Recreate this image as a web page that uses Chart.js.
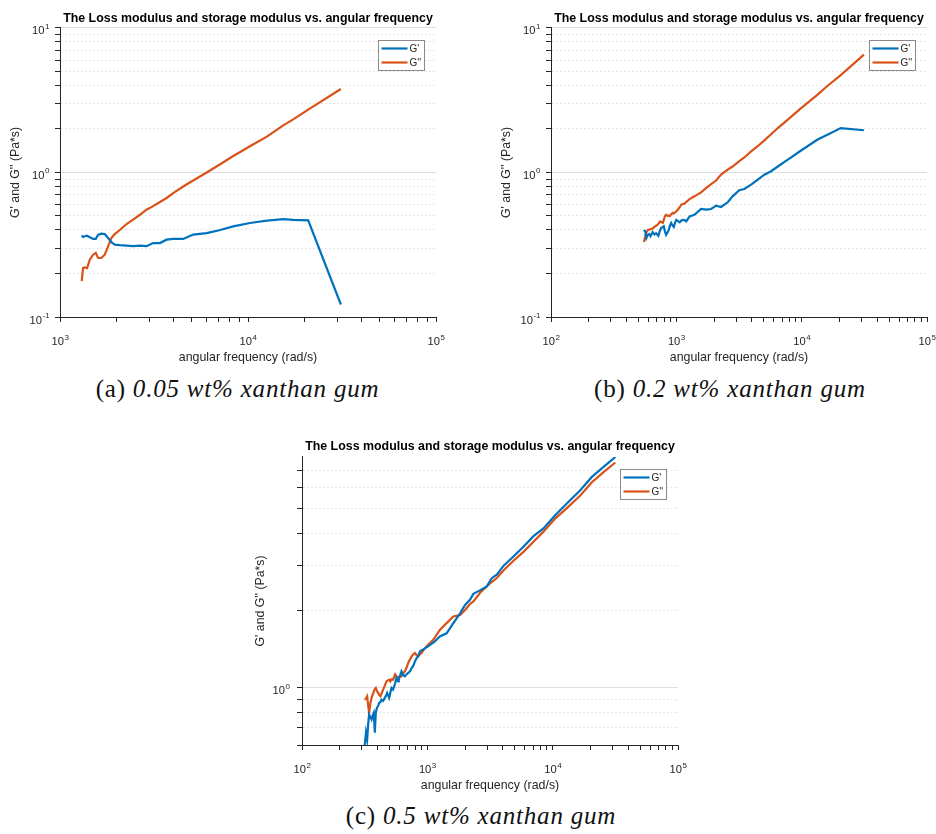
<!DOCTYPE html>
<html lang="en">
<head>
    <meta charset="UTF-8">
    <title>Loss modulus and storage modulus vs. angular frequency</title>
    <style>
        body {
            margin: 0;
            background: #ffffff;
            width: 936px;
            height: 834px;
            position: relative;
            overflow: hidden;
        }
        canvas {
            position: absolute;
        }
        .caption {
            position: absolute;
            text-align: center;
            font-family: "Liberation Serif", "DejaVu Serif", serif;
            font-size: 25px;
            line-height: 28px;
            letter-spacing: 0.8px;
            color: #111111;
            white-space: nowrap;
        }
    </style>
    <script src="https://cdn.jsdelivr.net/npm/chart.js@4.4.1/dist/chart.umd.min.js"></script>
</head>
<body>
    <canvas id="chartA" width="468" height="372" style="left:0px; top:0px; width:468px; height:372px;"></canvas>
    <canvas id="chartB" width="468" height="372" style="left:468px; top:0px; width:468px; height:372px;"></canvas>
    <canvas id="chartC" width="460" height="372" style="left:240px; top:430px; width:460px; height:372px;"></canvas>

    <div class="caption" style="left:0px; width:475px; top:375px;">(a) <i>0.05 wt% xanthan gum</i></div>
    <div class="caption" style="left:500px; width:460px; top:375px;">(b) <i>0.2 wt% xanthan gum</i></div>
    <div class="caption" style="left:251px; width:460px; top:802px;">(c) <i>0.5 wt% xanthan gum</i></div>

    <script>
        // ---- data ----
        // (a) 0.05 wt%
        const freqA = [1305, 1326, 1353, 1393, 1440, 1500, 1549, 1594, 1660, 1730, 1802, 1876, 1955, 2080,
            2260, 2450, 2660, 2885, 3130, 3400, 3690, 4000, 4520, 5110, 6030, 7110, 8350, 10240, 12600,
            15400, 17400, 20900, 31190];
        const gPrimeA = [0.367, 0.358, 0.362, 0.365, 0.356, 0.347, 0.347, 0.370, 0.377, 0.375, 0.352, 0.329,
            0.317, 0.314, 0.312, 0.309, 0.312, 0.309, 0.325, 0.325, 0.343, 0.347, 0.347, 0.372, 0.381,
            0.400, 0.424, 0.447, 0.464, 0.476, 0.470, 0.466, 0.122];
        const gDoubleA = [0.177, 0.218, 0.220, 0.218, 0.249, 0.270, 0.278, 0.256, 0.256, 0.270, 0.308, 0.352,
            0.375, 0.400, 0.440, 0.472, 0.510, 0.553, 0.585, 0.625, 0.666, 0.720, 0.800, 0.880, 1.00,
            1.14, 1.30, 1.52, 1.77, 2.12, 2.33, 2.72, 3.78];

        // (b) 0.2 wt%
        const freqB = [551, 565, 577, 592, 607, 622, 647, 669, 690, 718, 744, 756, 780, 794, 812, 829, 850,
            869, 890, 910, 932, 954, 977, 1000, 1032, 1064, 1097, 1130, 1165, 1200, 1276, 1394, 1575, 1728,
            1895, 2076, 2275, 2570, 2810, 3180, 3490, 3950, 4460, 5040, 5700, 6450, 7750, 9900, 13400,
            16200, 20500, 31400];
        const gPrimeB = [0.40, 0.39, 0.352, 0.37, 0.375, 0.362, 0.387, 0.372, 0.38, 0.365, 0.40, 0.413, 0.42,
            0.424, 0.39, 0.37, 0.385, 0.40, 0.43, 0.447, 0.43, 0.42, 0.45, 0.47, 0.46, 0.452, 0.465, 0.47,
            0.468, 0.459, 0.497, 0.51, 0.559, 0.553, 0.559, 0.59, 0.577, 0.622, 0.684, 0.753, 0.769, 0.824,
            0.892, 0.966, 1.02, 1.10, 1.227, 1.42, 1.69, 1.83, 2.03, 1.96];
        const gDoubleB = [0.33, 0.36, 0.385, 0.40, 0.402, 0.405, 0.41, 0.42, 0.428, 0.44, 0.459, 0.455, 0.448,
            0.47, 0.50, 0.51, 0.50, 0.505, 0.50, 0.515, 0.525, 0.52, 0.53, 0.539, 0.555, 0.575, 0.60, 0.605,
            0.61, 0.625, 0.655, 0.684, 0.729, 0.78, 0.83, 0.88, 0.966, 1.046, 1.10, 1.20, 1.27, 1.40, 1.52,
            1.67, 1.84, 2.03, 2.32, 2.79, 3.46, 4.00, 4.72, 6.54];

        // (c) 0.5 wt%
        const freqC = [317, 324, 331, 337, 343, 351, 359, 366, 374, 381, 388, 397, 405, 413, 423, 431, 444,
            458, 472, 478, 496, 507, 518, 533, 553, 567, 585, 591, 622, 642, 662, 683, 704, 727, 750, 773,
            796, 822, 845, 873, 899, 928, 985, 1014, 1115, 1147, 1258, 1425, 1612, 1825, 2000, 2190, 2330,
            2650, 2980, 3265, 3600, 4045, 4865, 5850, 7030, 8440, 10470, 12980, 16600, 20560, 25470, 31620];
        const gPrimeC = [0.60, 0.67, 0.63, 0.72, 0.788, 0.77, 0.754, 0.78, 0.80, 0.67, 0.80, 0.84, 0.85, 0.875,
            0.88, 0.90, 0.89, 0.915, 0.94, 0.956, 0.915, 0.96, 1.00, 0.985, 1.04, 1.093, 1.06, 1.077, 1.16,
            1.12, 1.11, 1.13, 1.143, 1.16, 1.195, 1.22, 1.268, 1.307, 1.33, 1.386, 1.40, 1.41, 1.44, 1.45,
            1.50, 1.515, 1.585, 1.63, 1.786, 1.95, 2.10, 2.20, 2.32, 2.40, 2.48, 2.67, 2.76, 2.98, 3.24,
            3.54, 3.89, 4.17, 4.69, 5.21, 5.87, 6.61, 7.23, 7.90];
        const gDoubleC = [0.90, 0.91, 0.928, 0.86, 0.80, 0.87, 0.915, 0.94, 0.97, 0.99, 1.00, 0.97, 0.956, 0.94,
            0.928, 0.95, 0.985, 1.02, 1.06, 1.065, 1.077, 1.06, 1.08, 1.077, 1.13, 1.11, 1.093, 1.10, 1.11,
            1.14, 1.16, 1.20, 1.25, 1.29, 1.326, 1.35, 1.366, 1.34, 1.326, 1.35, 1.366, 1.40, 1.45, 1.47,
            1.54, 1.57, 1.68, 1.786, 1.895, 1.92, 2.01, 2.12, 2.17, 2.35, 2.48, 2.58, 2.68, 2.86, 3.12,
            3.38, 3.70, 4.05, 4.55, 5.00, 5.60, 6.30, 6.90, 7.52];

        // axis limits
        const xLimA = [1e3, 1e5];
        const yLimA = [0.1, 10];
        const xLimB = [1e2, 1e5];
        const yLimB = [0.1, 10];
        const xLimC = [1e2, 1e5];
        const yLimC = [0.6, 7.9];

        const seriesLabels = ["G'", "G''"];
        const chartTitle = 'The Loss modulus and storage modulus vs. angular frequency';
        const xAxisName = 'angular frequency (rad/s)';
        const yAxisName = "G' and G'' (Pa*s)";

        // ---- styling ----
        const FONT = "'Liberation Sans', Arial, Helvetica, sans-serif";
        const BLUE = '#0072BD';
        const ORANGE = '#D95319';
        const AXIS = '#262626';
        const GRID = 'rgba(0,0,0,0.13)';

        function isPow10(v) {
            const l = Math.log10(v);
            return Math.abs(l - Math.round(l)) < 1e-9;
        }

        // 1..9 x 10^n ticks inside the axis range
        function logTicks(scale) {
            const lo = scale.min, hi = scale.max;
            const ticks = [];
            for (let e = Math.floor(Math.log10(lo)); e <= Math.ceil(Math.log10(hi)); e++) {
                for (let m = 1; m <= 9; m++) {
                    const v = parseFloat((m * Math.pow(10, e)).toPrecision(6));
                    if (v >= lo * (1 - 1e-9) && v <= hi * (1 + 1e-9)) ticks.push({value: v});
                }
            }
            scale.ticks = ticks;
        }

        // decade labels drawn as 10 with a raised exponent, placed by the scales
        const powerLabelPlugin = {
            id: 'powerLabels',
            afterDraw(chart, args, opts) {
                const ctx = chart.ctx;
                ctx.save();
                ctx.fillStyle = AXIS;
                ctx.textAlign = 'left';
                ctx.textBaseline = 'alphabetic';
                ['x', 'y'].forEach(function(id) {
                    const s = chart.scales[id];
                    s.ticks.forEach(function(t) {
                        if (!isPow10(t.value)) return;
                        const exp = String(Math.round(Math.log10(t.value)));
                        ctx.font = '11.2px ' + FONT;
                        const bw = ctx.measureText('10').width;
                        ctx.font = '8px ' + FONT;
                        const ew = ctx.measureText(exp).width;
                        const p = s.getPixelForValue(t.value);
                        let x0, base;
                        if (id === 'x') {
                            x0 = p - (bw + ew) / 2;
                            base = s.top + 28;
                        } else {
                            x0 = s.right - opts.yGap - (bw + ew);
                            base = p + 6.5;
                        }
                        ctx.font = '11.2px ' + FONT;
                        ctx.fillText('10', x0, base);
                        ctx.font = '8px ' + FONT;
                        ctx.fillText(exp, x0 + bw + 0.5, base - 5.5);
                    });
                });
                ctx.restore();
            }
        };

        // MATLAB-like legend box in the upper right of the axes
        const boxLegendPlugin = {
            id: 'boxLegend',
            afterDatasetsDraw(chart) {
                const {ctx, chartArea} = chart;
                const w = 46, h = 30;
                const x0 = Math.round(chartArea.right - 12 - w);
                const y0 = Math.round(chartArea.top + 12);
                ctx.save();
                ctx.fillStyle = '#ffffff';
                ctx.fillRect(x0, y0, w, h);
                ctx.strokeStyle = '#8a8a8a';
                ctx.lineWidth = 1;
                ctx.strokeRect(x0 + 0.5, y0 + 0.5, w, h);
                chart.data.datasets.forEach(function(ds, i) {
                    const yy = y0 + 8.5 + i * 14;
                    ctx.strokeStyle = ds.borderColor;
                    ctx.lineWidth = 2.2;
                    ctx.beginPath();
                    ctx.moveTo(x0 + 3.5, yy);
                    ctx.lineTo(x0 + 29.5, yy);
                    ctx.stroke();
                    ctx.fillStyle = AXIS;
                    ctx.font = '10px ' + FONT;
                    ctx.textBaseline = 'middle';
                    ctx.textAlign = 'left';
                    ctx.fillText(ds.label, x0 + 31.5, yy + 0.5);
                });
                ctx.restore();
            }
        };

        function toPoints(xs, ys) {
            return xs.map((x, i) => ({x: x, y: ys[i]}));
        }

        function makePanel(canvasId, freq, g1, g2, xLim, yLim, box) {
            const ctx = document.getElementById(canvasId).getContext('2d');
            return new Chart(ctx, {
                type: 'line',
                data: {
                    datasets: [
                        {label: seriesLabels[0], data: toPoints(freq, g1), borderColor: BLUE,
                         borderWidth: 2.2, pointRadius: 0, tension: 0, fill: false},
                        {label: seriesLabels[1], data: toPoints(freq, g2), borderColor: ORANGE,
                         borderWidth: 2.2, pointRadius: 0, tension: 0, fill: false}
                    ]
                },
                options: {
                    responsive: false,
                    animation: false,
                    layout: {padding: {left: 0, right: box.right, top: 0, bottom: 0}},
                    plugins: {
                        legend: {display: false},
                        tooltip: {enabled: false},
                        powerLabels: {yGap: box.yGap},
                        title: {
                            display: true,
                            text: chartTitle,
                            fullSize: false,
                            color: '#000000',
                            font: {family: FONT, size: 12.4, weight: 'bold', lineHeight: 1.2},
                            padding: {top: box.titleTop, bottom: box.titleBottom}
                        }
                    },
                    scales: {
                        x: {
                            type: 'logarithmic',
                            min: xLim[0],
                            max: xLim[1],
                            afterBuildTicks: logTicks,
                            afterFit: function(s) { s.height = box.xHeight; s.paddingLeft = 0; s.paddingRight = 0; },
                            ticks: {display: false, autoSkip: false},
                            grid: {drawOnChartArea: false, tickLength: 5, tickColor: AXIS, tickWidth: 1},
                            border: {color: AXIS, width: 1},
                            title: {
                                display: true, text: xAxisName, color: AXIS,
                                font: {family: FONT, size: 12.4, lineHeight: 1.2},
                                padding: {top: 0, bottom: box.xTitlePad}
                            }
                        },
                        y: {
                            type: 'logarithmic',
                            min: yLim[0],
                            max: yLim[1],
                            afterBuildTicks: logTicks,
                            afterFit: function(s) { s.width = box.yWidth; s.paddingTop = 0; s.paddingBottom = 0; },
                            ticks: {display: false, autoSkip: false},
                            grid: {
                                color: GRID,
                                lineWidth: 1,
                                tickLength: 5,
                                tickColor: AXIS,
                                tickWidth: 1
                            },
                            border: {
                                color: AXIS,
                                width: 1,
                                dash: c => (c.tick && !isPow10(c.tick.value)) ? [1.5, 2.5] : []
                            },
                            title: {
                                display: true, text: yAxisName, color: AXIS,
                                font: {family: FONT, size: 12.3, lineHeight: 1.2},
                                padding: {top: box.yTitlePad, bottom: 0}
                            }
                        }
                    }
                },
                plugins: [boxLegendPlugin, powerLabelPlugin]
            });
        }

        window.addEventListener('load', function() {
            makePanel('chartA', freqA, gPrimeA, gDoubleA, xLimA, yLimA,
                {right: 32, titleTop: 11.5, titleBottom: 1.6, xHeight: 55, xTitlePad: 6.5,
                 yWidth: 60, yGap: 11, yTitlePad: 8.5});
            makePanel('chartB', freqB, gPrimeB, gDoubleB, xLimB, yLimB,
                {right: 9, titleTop: 11.5, titleBottom: 1.6, xHeight: 55, xTitlePad: 6.5,
                 yWidth: 83, yGap: 11, yTitlePad: 31.5});
            makePanel('chartC', freqC, gPrimeC, gDoubleC, xLimC, yLimC,
                {right: 22, titleTop: 9.2, titleBottom: 2.9, xHeight: 57, xTitlePad: 8.5,
                 yWidth: 62, yGap: 12.5, yTitlePad: 13.2});
        });
    </script>
</body>
</html>
